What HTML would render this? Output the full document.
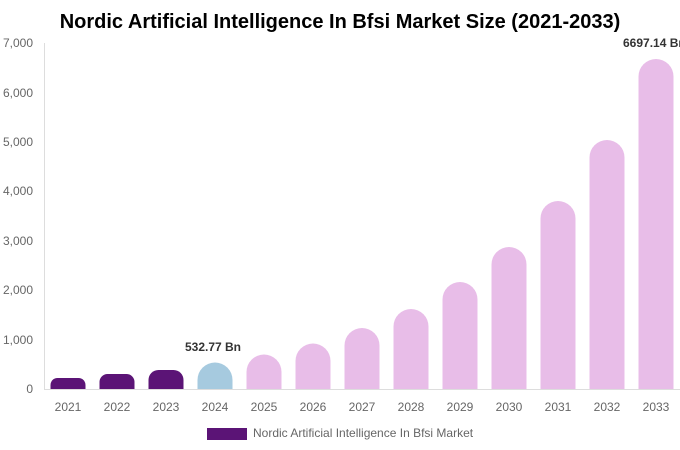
<!DOCTYPE html>
<html><head><meta charset="utf-8"><style>
body{margin:0;background:#fff;}
svg{display:block;font-family:"Liberation Sans",sans-serif;}
</style></head><body>
<svg width="680" height="450" viewBox="0 0 680 450">
<text x="340" y="28" text-anchor="middle" font-size="20" font-weight="bold" fill="#000">Nordic Artificial Intelligence In Bfsi Market Size (2021-2033)</text>
<g font-size="12" fill="#666" text-anchor="end">
<text x="33" y="393">0</text>
<text x="33" y="344">1,000</text>
<text x="33" y="294">2,000</text>
<text x="33" y="245">3,000</text>
<text x="33" y="195">4,000</text>
<text x="33" y="146">5,000</text>
<text x="33" y="97">6,000</text>
<text x="33" y="47">7,000</text>
</g>
<line x1="44.5" y1="43" x2="44.5" y2="389" stroke="#ddd"/>
<line x1="44" y1="389.5" x2="680" y2="389.5" stroke="#ddd"/>
<g>
<path d="M50.5 389V385A7 7 0 0 1 57.5 378H78.5A7 7 0 0 1 85.5 385V389Z" fill="#5b1476"/>
<path d="M99.5 389V382A8 8 0 0 1 107.5 374H126.5A8 8 0 0 1 134.5 382V389Z" fill="#5b1476"/>
<path d="M148.5 389V380A10 10 0 0 1 158.5 370H173.5A10 10 0 0 1 183.5 380V389Z" fill="#5b1476"/>
<path d="M197.5 389V380A17 17 0 0 1 232.5 380V389Z" fill="#a6cadf"/>
<path d="M246.5 389V372A17.5 17.5 0 0 1 281.5 372V389Z" fill="#e8bde8"/>
<path d="M295.5 389V361A17.5 17.5 0 0 1 330.5 361V389Z" fill="#e8bde8"/>
<path d="M344.5 389V345.5A17.5 17.5 0 0 1 379.5 345.5V389Z" fill="#e8bde8"/>
<path d="M393.5 389V326.5A17.5 17.5 0 0 1 428.5 326.5V389Z" fill="#e8bde8"/>
<path d="M442.5 389V299.5A17.5 17.5 0 0 1 477.5 299.5V389Z" fill="#e8bde8"/>
<path d="M491.5 389V264.5A17.5 17.5 0 0 1 526.5 264.5V389Z" fill="#e8bde8"/>
<path d="M540.5 389V218.5A17.5 17.5 0 0 1 575.5 218.5V389Z" fill="#e8bde8"/>
<path d="M589.5 389V157.5A17.5 17.5 0 0 1 624.5 157.5V389Z" fill="#e8bde8"/>
<path d="M638.5 389V76.5A17.5 17.5 0 0 1 673.5 76.5V389Z" fill="#e8bde8"/>
</g>
<text x="213" y="351" text-anchor="middle" font-size="12" font-weight="bold" fill="#333">532.77 Bn</text>
<text x="623" y="47" font-size="12" font-weight="bold" fill="#333">6697.14 Bn</text>
<g font-size="12" fill="#666" text-anchor="middle">
<text x="68" y="411">2021</text><text x="117" y="411">2022</text><text x="166" y="411">2023</text>
<text x="215" y="411">2024</text><text x="264" y="411">2025</text><text x="313" y="411">2026</text>
<text x="362" y="411">2027</text><text x="411" y="411">2028</text><text x="460" y="411">2029</text>
<text x="509" y="411">2030</text><text x="558" y="411">2031</text><text x="607" y="411">2032</text>
<text x="656" y="411">2033</text>
</g>
<rect x="207" y="428" width="40" height="12" fill="#5b1476"/>
<text x="253" y="437" font-size="12" fill="#666">Nordic Artificial Intelligence In Bfsi Market</text>
</svg>
</body></html>
